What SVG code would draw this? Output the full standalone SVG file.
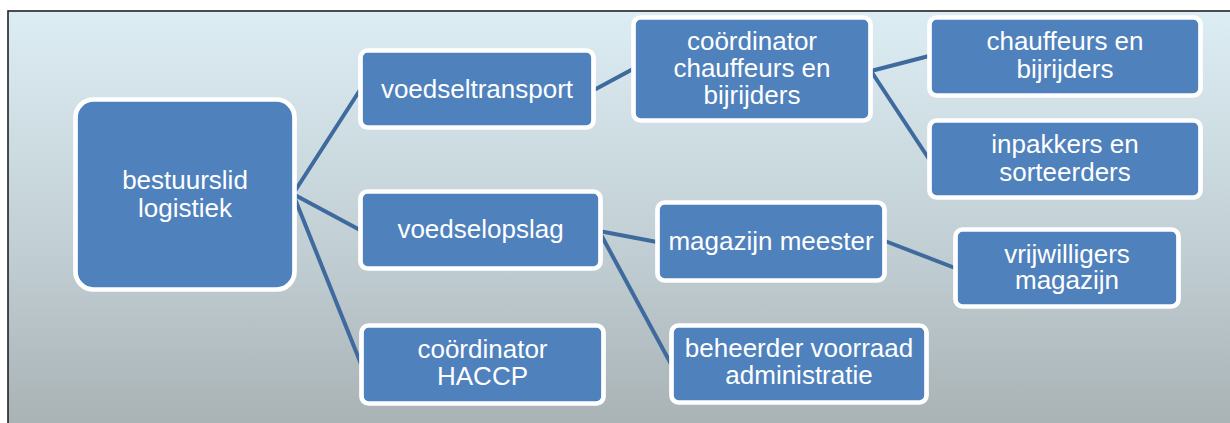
<svg xmlns="http://www.w3.org/2000/svg" width="1230" height="423" viewBox="0 0 1230 423">
  <defs>
    <linearGradient id="bg" x1="0" y1="0" x2="0" y2="1">
      <stop offset="0" stop-color="#dcedf3"/>
      <stop offset="0.5" stop-color="#c4d2d7"/>
      <stop offset="1" stop-color="#a7b0b3"/>
    </linearGradient>
  </defs>
  <style>
    .box { fill: #4f81bd; stroke: #ffffff; stroke-width: 4.7; }
    .lbl { fill: #ffffff; font-family: "Liberation Sans", Arial, sans-serif; font-size: 26px; text-anchor: middle; }
    .conn line { stroke: #3f6a9e; stroke-width: 4; stroke-linecap: butt; }
  </style>

  <!-- page background and frame -->
  <rect x="0" y="0" width="1230" height="423" fill="#ffffff"/>
  <rect x="8" y="11" width="1240" height="430" fill="url(#bg)" stroke="#222222" stroke-width="1.6"/>

  <!-- connectors -->
  <g id="connectors" class="conn">
    <line x1="293" y1="194" x2="360" y2="90"/>
    <line x1="293" y1="194" x2="360" y2="230"/>
    <line x1="293" y1="194" x2="361" y2="364"/>
    <line x1="594" y1="90" x2="633" y2="69"/>
    <line x1="871" y1="71" x2="929" y2="56"/>
    <line x1="871" y1="71" x2="929" y2="159"/>
    <line x1="599" y1="231" x2="657" y2="242"/>
    <line x1="599" y1="231" x2="671" y2="364"/>
    <line x1="885" y1="241" x2="955" y2="268"/>
  </g>

  <g id="bestuurslid-logistiek">
    <rect class="box" x="75.5" y="99.5" width="219" height="190" rx="18"/>
    <text class="lbl" x="185" y="189">bestuurslid</text>
    <text class="lbl" x="185" y="217">logistiek</text>
  </g>

  <g id="voedseltransport">
    <rect class="box" x="360.5" y="50.5" width="233" height="77" rx="7"/>
    <text class="lbl" x="477" y="98">voedseltransport</text>
  </g>

  <g id="coordinator-chauffeurs">
    <rect class="box" x="633.5" y="17.5" width="237" height="103" rx="7"/>
    <text class="lbl" x="752" y="50">coördinator</text>
    <text class="lbl" x="752" y="77">chauffeurs en</text>
    <text class="lbl" x="752" y="104">bijrijders</text>
  </g>

  <g id="chauffeurs-bijrijders">
    <rect class="box" x="929.5" y="17.5" width="271" height="78" rx="7"/>
    <text class="lbl" x="1065" y="50">chauffeurs en</text>
    <text class="lbl" x="1065" y="78">bijrijders</text>
  </g>

  <g id="inpakkers-sorteerders">
    <rect class="box" x="929.5" y="120.5" width="271" height="77" rx="7"/>
    <text class="lbl" x="1065" y="153">inpakkers en</text>
    <text class="lbl" x="1065" y="181">sorteerders</text>
  </g>

  <g id="voedselopslag">
    <rect class="box" x="360.5" y="191.5" width="240" height="77" rx="7"/>
    <text class="lbl" x="480.5" y="238">voedselopslag</text>
  </g>

  <g id="magazijn-meester">
    <rect class="box" x="657.5" y="202.5" width="227" height="78" rx="7"/>
    <text class="lbl" x="771" y="250">magazijn meester</text>
  </g>

  <g id="beheerder-voorraad">
    <rect class="box" x="671.5" y="325.5" width="255" height="77" rx="7"/>
    <text class="lbl" x="799" y="357">beheerder voorraad</text>
    <text class="lbl" x="799" y="384">administratie</text>
  </g>

  <g id="vrijwilligers-magazijn">
    <rect class="box" x="955.5" y="229.5" width="223" height="77" rx="7"/>
    <text class="lbl" x="1067" y="263">vrijwilligers</text>
    <text class="lbl" x="1067" y="289">magazijn</text>
  </g>

  <g id="coordinator-haccp">
    <rect class="box" x="361.5" y="325.5" width="242" height="78" rx="7"/>
    <text class="lbl" x="482.5" y="358">coördinator</text>
    <text class="lbl" x="482.5" y="385">HACCP</text>
  </g>
</svg>
